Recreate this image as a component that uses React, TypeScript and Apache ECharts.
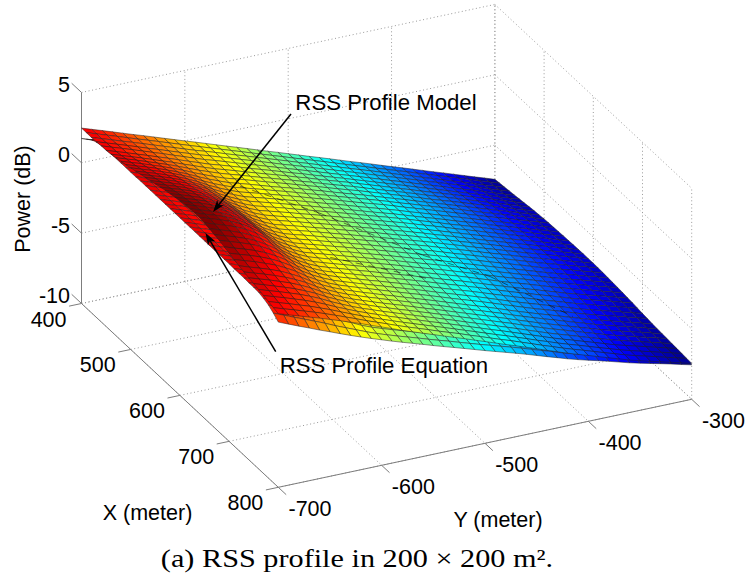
import React, { useEffect, useRef } from "react";
import * as echarts from "echarts";

const xTicks = [400, 500, 600, 700, 800];
const yTicks = [-700, -600, -500, -400, -300];
const zTicks = [-10, -5, 0, 5];
const STEP = 10; // metres between mesh nodes

// Power (dB) of the model surface: rows X = 400..800, columns Y = -700..-300
const modelPower: number[][] = [
[2.47,2.22,1.98,1.73,1.48,1.23,.99,.74,.49,.24,-.01,-.25,-.5,-.75,-1,-1.24,-1.49,-1.74,-1.99,-2.23,-2.48,-2.73,-2.98,-3.22,-3.47,-3.72,-3.97,-4.21,-4.46,-4.71,-4.96,-5.2,-5.45,-5.7,-5.95,-6.19,-6.44,-6.69,-6.94,-7.18,-7.43],
[2.47,2.22,1.98,1.73,1.48,1.23,.99,.74,.49,.24,-.01,-.25,-.5,-.74,-.99,-1.23,-1.48,-1.72,-1.97,-2.21,-2.46,-2.7,-2.95,-3.19,-3.44,-3.69,-3.94,-4.18,-4.43,-4.67,-4.92,-5.16,-5.41,-5.66,-5.91,-6.15,-6.4,-6.64,-6.89,-7.13,-7.38],
[2.46,2.21,1.97,1.72,1.48,1.23,.98,.73,.48,.23,-.02,-.25,-.49,-.74,-.98,-1.22,-1.46,-1.71,-1.95,-2.19,-2.44,-2.68,-2.93,-3.17,-3.41,-3.66,-3.9,-4.14,-4.39,-4.64,-4.89,-5.13,-5.38,-5.63,-5.88,-6.12,-6.36,-6.61,-6.86,-7.1,-7.34],
[2.48,2.23,1.99,1.74,1.49,1.23,.99,.73,.48,.23,-.02,-.25,-.49,-.73,-.97,-1.21,-1.45,-1.69,-1.94,-2.17,-2.41,-2.65,-2.9,-3.13,-3.38,-3.62,-3.87,-4.11,-4.36,-4.6,-4.85,-5.09,-5.34,-5.58,-5.83,-6.07,-6.32,-6.56,-6.81,-7.05,-7.29],
[2.51,2.26,2.02,1.77,1.52,1.26,1.01,.75,.49,.23,-.03,-.25,-.49,-.73,-.97,-1.2,-1.44,-1.68,-1.92,-2.15,-2.39,-2.63,-2.87,-3.11,-3.35,-3.59,-3.84,-4.08,-4.33,-4.57,-4.82,-5.06,-5.31,-5.55,-5.8,-6.04,-6.28,-6.52,-6.77,-7.01,-7.25],
[2.52,2.27,2.03,1.78,1.53,1.27,1.02,.75,.49,.23,-.03,-.25,-.48,-.72,-.96,-1.19,-1.42,-1.66,-1.9,-2.12,-2.37,-2.6,-2.84,-3.07,-3.32,-3.56,-3.8,-4.04,-4.29,-4.53,-4.78,-5.02,-5.27,-5.51,-5.76,-5.99,-6.24,-6.48,-6.73,-6.96,-7.2],
[2.57,2.32,2.08,1.83,1.57,1.31,1.05,.77,.5,.23,-.03,-.25,-.48,-.72,-.95,-1.18,-1.4,-1.63,-1.87,-2.09,-2.34,-2.57,-2.8,-3.03,-3.28,-3.52,-3.76,-4,-4.25,-4.49,-4.74,-4.98,-5.22,-5.46,-5.71,-5.94,-6.19,-6.43,-6.67,-6.9,-7.15],
[2.65,2.4,2.16,1.9,1.64,1.38,1.1,.8,.51,.24,-.02,-.25,-.47,-.71,-.94,-1.16,-1.39,-1.61,-1.85,-2.07,-2.32,-2.55,-2.78,-3,-3.25,-3.49,-3.73,-3.96,-4.21,-4.45,-4.7,-4.94,-5.18,-5.42,-5.67,-5.9,-6.15,-6.39,-6.63,-6.86,-7.1],
[2.72,2.48,2.24,1.98,1.72,1.44,1.15,.82,.52,.23,-.04,-.25,-.47,-.7,-.93,-1.15,-1.37,-1.6,-1.83,-2.05,-2.29,-2.52,-2.75,-2.97,-3.21,-3.45,-3.69,-3.93,-4.18,-4.42,-4.67,-4.9,-5.14,-5.38,-5.63,-5.86,-6.11,-6.35,-6.59,-6.82,-7.05],
[2.81,2.56,2.33,2.07,1.8,1.51,1.2,.85,.53,.24,-.04,-.25,-.47,-.7,-.93,-1.15,-1.36,-1.58,-1.81,-2.03,-2.27,-2.5,-2.73,-2.95,-3.19,-3.43,-3.67,-3.9,-4.15,-4.39,-4.63,-4.87,-5.11,-5.35,-5.59,-5.83,-6.07,-6.31,-6.55,-6.78,-7.02],
[2.91,2.66,2.42,2.17,1.89,1.59,1.26,.88,.54,.24,-.04,-.25,-.46,-.68,-.91,-1.12,-1.35,-1.58,-1.8,-2.02,-2.25,-2.48,-2.71,-2.93,-3.16,-3.4,-3.65,-3.88,-4.12,-4.36,-4.6,-4.84,-5.08,-5.32,-5.57,-5.8,-6.04,-6.27,-6.51,-6.74,-6.98],
[3,2.76,2.52,2.26,1.98,1.66,1.32,.91,.56,.24,-.04,-.25,-.46,-.68,-.9,-1.12,-1.34,-1.57,-1.79,-2.01,-2.24,-2.47,-2.7,-2.92,-3.14,-3.38,-3.63,-3.86,-4.1,-4.34,-4.58,-4.82,-5.06,-5.3,-5.55,-5.78,-6.01,-6.25,-6.48,-6.71,-6.95],
[3.1,2.85,2.62,2.36,2.07,1.74,1.38,.95,.57,.25,-.05,-.26,-.47,-.68,-.91,-1.12,-1.34,-1.57,-1.79,-2.01,-2.24,-2.47,-2.7,-2.92,-3.15,-3.38,-3.63,-3.86,-4.1,-4.34,-4.58,-4.82,-5.06,-5.3,-5.55,-5.77,-6.01,-6.24,-6.48,-6.7,-6.94],
[3.21,2.96,2.72,2.46,2.17,1.83,1.45,.98,.59,.25,-.05,-.26,-.47,-.68,-.91,-1.12,-1.34,-1.57,-1.79,-2.01,-2.24,-2.47,-2.7,-2.92,-3.14,-3.38,-3.62,-3.86,-4.09,-4.33,-4.58,-4.81,-5.04,-5.29,-5.54,-5.76,-6,-6.23,-6.46,-6.69,-6.92],
[3.3,3.06,2.82,2.56,2.26,1.91,1.5,1.01,.6,.25,-.05,-.26,-.47,-.68,-.91,-1.12,-1.34,-1.56,-1.78,-2,-2.23,-2.46,-2.68,-2.9,-3.13,-3.36,-3.61,-3.84,-4.08,-4.33,-4.56,-4.8,-5.03,-5.28,-5.52,-5.75,-5.98,-6.21,-6.44,-6.67,-6.9],
[3.4,3.16,2.92,2.65,2.35,1.98,1.56,1.05,.62,.26,-.05,-.26,-.47,-.68,-.91,-1.12,-1.34,-1.56,-1.78,-2,-2.23,-2.46,-2.68,-2.9,-3.12,-3.36,-3.6,-3.83,-4.07,-4.32,-4.55,-4.79,-5.03,-5.27,-5.51,-5.74,-5.97,-6.2,-6.43,-6.66,-6.89],
[3.5,3.25,3.02,2.75,2.44,2.06,1.62,1.08,.63,.26,-.05,-.27,-.48,-.69,-.91,-1.12,-1.34,-1.56,-1.79,-2.01,-2.23,-2.46,-2.68,-2.9,-3.13,-3.36,-3.61,-3.84,-4.08,-4.32,-4.56,-4.8,-5.03,-5.27,-5.52,-5.74,-5.97,-6.2,-6.43,-6.65,-6.88],
[3.6,3.35,3.12,2.84,2.53,2.14,1.68,1.11,.64,.26,-.05,-.27,-.48,-.69,-.91,-1.12,-1.34,-1.56,-1.79,-2.01,-2.23,-2.46,-2.68,-2.9,-3.13,-3.36,-3.61,-3.84,-4.08,-4.33,-4.56,-4.8,-5.03,-5.27,-5.52,-5.74,-5.97,-6.19,-6.42,-6.64,-6.87],
[3.68,3.44,3.2,2.93,2.61,2.21,1.74,1.14,.66,.27,-.06,-.28,-.48,-.7,-.92,-1.13,-1.35,-1.57,-1.79,-2.01,-2.23,-2.46,-2.69,-2.9,-3.13,-3.36,-3.61,-3.84,-4.09,-4.32,-4.56,-4.79,-5.03,-5.27,-5.51,-5.74,-5.96,-6.19,-6.41,-6.63,-6.86],
[3.76,3.51,3.27,3.01,2.68,2.27,1.78,1.17,.67,.27,-.06,-.28,-.49,-.7,-.92,-1.14,-1.36,-1.58,-1.8,-2.02,-2.24,-2.47,-2.69,-2.91,-3.14,-3.37,-3.62,-3.85,-4.09,-4.33,-4.57,-4.8,-5.04,-5.28,-5.52,-5.74,-5.97,-6.19,-6.41,-6.63,-6.86],
[3.83,3.58,3.35,3.07,2.75,2.33,1.83,1.19,.68,.27,-.06,-.29,-.49,-.71,-.93,-1.15,-1.36,-1.58,-1.8,-2.02,-2.25,-2.47,-2.7,-2.92,-3.14,-3.38,-3.63,-3.86,-4.1,-4.34,-4.58,-4.81,-5.05,-5.29,-5.53,-5.75,-5.98,-6.2,-6.42,-6.64,-6.86],
[3.88,3.64,3.4,3.13,2.8,2.37,1.86,1.21,.68,.27,-.06,-.29,-.5,-.72,-.94,-1.15,-1.37,-1.59,-1.81,-2.04,-2.26,-2.49,-2.72,-2.93,-3.16,-3.4,-3.65,-3.88,-4.12,-4.36,-4.6,-4.83,-5.06,-5.3,-5.55,-5.77,-5.99,-6.21,-6.43,-6.65,-6.87],
[3.92,3.67,3.44,3.16,2.83,2.4,1.88,1.22,.69,.27,-.07,-.3,-.51,-.73,-.95,-1.16,-1.39,-1.61,-1.83,-2.05,-2.28,-2.51,-2.74,-2.96,-3.18,-3.42,-3.67,-3.91,-4.15,-4.39,-4.62,-4.86,-5.09,-5.33,-5.58,-5.79,-6.02,-6.23,-6.46,-6.67,-6.89],
[3.95,3.7,3.47,3.19,2.86,2.42,1.9,1.23,.69,.27,-.07,-.31,-.52,-.74,-.97,-1.18,-1.41,-1.63,-1.85,-2.08,-2.31,-2.54,-2.77,-2.99,-3.22,-3.46,-3.71,-3.95,-4.19,-4.43,-4.66,-4.9,-5.13,-5.37,-5.61,-5.83,-6.05,-6.27,-6.49,-6.7,-6.92],
[3.95,3.71,3.47,3.2,2.87,2.43,1.9,1.23,.69,.27,-.08,-.31,-.53,-.75,-.98,-1.2,-1.42,-1.65,-1.87,-2.1,-2.33,-2.56,-2.79,-3.01,-3.24,-3.48,-3.74,-3.97,-4.22,-4.46,-4.69,-4.93,-5.16,-5.4,-5.64,-5.86,-6.08,-6.29,-6.51,-6.72,-6.94],
[3.89,3.65,3.41,3.14,2.81,2.38,1.86,1.2,.68,.26,-.08,-.32,-.54,-.77,-1,-1.21,-1.44,-1.67,-1.89,-2.12,-2.36,-2.59,-2.82,-3.04,-3.28,-3.52,-3.77,-4.01,-4.26,-4.5,-4.73,-4.96,-5.2,-5.44,-5.68,-5.9,-6.11,-6.33,-6.55,-6.75,-6.97],
[3.81,3.56,3.33,3.06,2.73,2.31,1.81,1.17,.66,.25,-.09,-.33,-.56,-.78,-1.01,-1.23,-1.46,-1.69,-1.92,-2.15,-2.38,-2.62,-2.85,-3.08,-3.31,-3.55,-3.81,-4.05,-4.3,-4.54,-4.77,-5,-5.24,-5.48,-5.72,-5.93,-6.15,-6.36,-6.58,-6.79,-7],
[3.71,3.47,3.24,2.97,2.65,2.24,1.75,1.14,.64,.24,-.09,-.34,-.57,-.8,-1.03,-1.25,-1.49,-1.72,-1.95,-2.18,-2.42,-2.65,-2.89,-3.12,-3.35,-3.6,-3.85,-4.1,-4.34,-4.58,-4.82,-5.05,-5.29,-5.52,-5.77,-5.98,-6.2,-6.41,-6.62,-6.83,-7.04],
[3.63,3.39,3.15,2.89,2.57,2.17,1.7,1.11,.63,.23,-.1,-.35,-.58,-.81,-1.05,-1.27,-1.5,-1.74,-1.97,-2.2,-2.44,-2.68,-2.92,-3.15,-3.39,-3.63,-3.89,-4.13,-4.38,-4.62,-4.85,-5.09,-5.32,-5.56,-5.8,-6.02,-6.23,-6.44,-6.65,-6.86,-7.07],
[3.5,3.25,3.02,2.76,2.45,2.07,1.62,1.06,.6,.22,-.1,-.36,-.59,-.83,-1.07,-1.29,-1.53,-1.76,-2,-2.24,-2.48,-2.72,-2.96,-3.19,-3.43,-3.68,-3.93,-4.18,-4.43,-4.67,-4.9,-5.14,-5.37,-5.61,-5.85,-6.06,-6.28,-6.48,-6.7,-6.9,-7.12],
[3.37,3.13,2.9,2.64,2.34,1.97,1.54,1.02,.58,.21,-.11,-.37,-.61,-.85,-1.09,-1.32,-1.56,-1.8,-2.03,-2.27,-2.52,-2.76,-3,-3.24,-3.48,-3.73,-3.99,-4.24,-4.49,-4.73,-4.96,-5.2,-5.43,-5.67,-5.91,-6.12,-6.33,-6.54,-6.75,-6.95,-7.17],
[3.25,3.01,2.78,2.51,2.23,1.87,1.47,.97,.56,.19,-.12,-.37,-.62,-.86,-1.1,-1.34,-1.58,-1.82,-2.05,-2.3,-2.54,-2.79,-3.03,-3.27,-3.51,-3.76,-4.02,-4.27,-4.52,-4.77,-5,-5.23,-5.47,-5.71,-5.95,-6.16,-6.37,-6.57,-6.78,-6.98,-7.2],
[3.13,2.88,2.65,2.4,2.12,1.77,1.39,.93,.53,.18,-.12,-.38,-.64,-.88,-1.13,-1.36,-1.61,-1.85,-2.09,-2.33,-2.58,-2.83,-3.08,-3.32,-3.56,-3.82,-4.08,-4.33,-4.58,-4.82,-5.05,-5.29,-5.53,-5.76,-6.01,-6.21,-6.42,-6.63,-6.84,-7.04,-7.25],
[3.02,2.78,2.55,2.29,2.02,1.69,1.33,.89,.51,.17,-.13,-.39,-.65,-.89,-1.14,-1.38,-1.62,-1.87,-2.11,-2.35,-2.6,-2.85,-3.1,-3.34,-3.59,-3.84,-4.11,-4.36,-4.61,-4.85,-5.08,-5.32,-5.56,-5.79,-6.03,-6.24,-6.45,-6.65,-6.86,-7.06,-7.27],
[2.93,2.69,2.46,2.2,1.94,1.62,1.27,.86,.49,.16,-.14,-.4,-.66,-.91,-1.15,-1.39,-1.64,-1.89,-2.13,-2.38,-2.63,-2.88,-3.13,-3.37,-3.62,-3.88,-4.14,-4.39,-4.65,-4.89,-5.12,-5.36,-5.6,-5.83,-6.07,-6.28,-6.49,-6.69,-6.89,-7.09,-7.3],
[2.84,2.6,2.36,2.11,1.85,1.54,1.21,.82,.48,.15,-.14,-.4,-.67,-.92,-1.17,-1.41,-1.66,-1.9,-2.15,-2.4,-2.65,-2.9,-3.15,-3.4,-3.65,-3.9,-4.17,-4.42,-4.68,-4.92,-5.15,-5.39,-5.63,-5.86,-6.1,-6.31,-6.51,-6.71,-6.92,-7.11,-7.32],
[2.75,2.51,2.28,2.03,1.78,1.48,1.16,.79,.46,.14,-.15,-.41,-.68,-.93,-1.18,-1.43,-1.68,-1.92,-2.17,-2.42,-2.68,-2.93,-3.18,-3.43,-3.68,-3.94,-4.2,-4.46,-4.72,-4.96,-5.19,-5.43,-5.67,-5.9,-6.14,-6.34,-6.55,-6.74,-6.95,-7.14,-7.35],
[2.65,2.41,2.18,1.93,1.68,1.4,1.09,.75,.44,.13,-.15,-.42,-.69,-.94,-1.2,-1.44,-1.7,-1.94,-2.19,-2.44,-2.7,-2.95,-3.21,-3.45,-3.71,-3.97,-4.23,-4.49,-4.75,-4.99,-5.22,-5.46,-5.69,-5.93,-6.17,-6.37,-6.57,-6.77,-6.97,-7.17,-7.37],
[2.55,2.31,2.08,1.83,1.59,1.31,1.03,.72,.42,.12,-.16,-.43,-.7,-.96,-1.21,-1.46,-1.71,-1.96,-2.21,-2.47,-2.72,-2.98,-3.24,-3.48,-3.74,-4,-4.27,-4.52,-4.78,-5.02,-5.25,-5.49,-5.73,-5.96,-6.2,-6.41,-6.61,-6.8,-7,-7.2,-7.4],
[2.44,2.2,1.97,1.73,1.49,1.23,.96,.68,.4,.11,-.16,-.43,-.71,-.97,-1.22,-1.47,-1.73,-1.98,-2.22,-2.49,-2.74,-3,-3.26,-3.5,-3.77,-4.03,-4.3,-4.55,-4.81,-5.05,-5.28,-5.52,-5.76,-5.99,-6.23,-6.44,-6.63,-6.83,-7.03,-7.22,-7.42],
[2.34,2.1,1.87,1.63,1.4,1.15,.9,.64,.38,.1,-.17,-.44,-.72,-.98,-1.24,-1.49,-1.75,-2,-2.25,-2.51,-2.77,-3.03,-3.29,-3.54,-3.8,-4.06,-4.33,-4.59,-4.85,-5.09,-5.32,-5.56,-5.8,-6.03,-6.27,-6.47,-6.67,-6.86,-7.06,-7.25,-7.45],
];

// Power (dB) of the equation surface along its Y = -700 edge: X = 400..750, first six Y nodes
const equationEdge: number[][] = [
[1.73,1.48,1.23,.98,.73,.48],[2,1.75,1.5,1.25,1,.75],[2.3,2.05,1.8,1.55,1.3,1.05],[2.45,2.2,1.95,1.7,1.45,1.2],
[2.55,2.3,2.05,1.8,1.55,1.3],[2.55,2.3,2.05,1.8,1.55,1.3],[2.58,2.33,2.08,1.83,1.58,1.33],[2.6,2.35,2.1,1.85,1.6,1.35],
[2.6,2.35,2.1,1.85,1.6,1.35],[2.6,2.35,2.1,1.85,1.6,1.35],[2.6,2.35,2.1,1.85,1.6,1.35],[2.6,2.35,2.1,1.85,1.6,1.35],
[2.62,2.37,2.12,1.87,1.62,1.37],[2.62,2.37,2.12,1.87,1.62,1.37],[2.62,2.37,2.12,1.87,1.62,1.37],[2.62,2.37,2.12,1.87,1.62,1.37],
[2.62,2.37,2.12,1.87,1.62,1.37],[2.62,2.37,2.12,1.87,1.62,1.37],[2.62,2.37,2.12,1.87,1.62,1.37],[2.62,2.37,2.12,1.87,1.62,1.37],
[2.62,2.37,2.12,1.87,1.62,1.37],[2.62,2.37,2.12,1.87,1.62,1.37],[2.62,2.37,2.12,1.87,1.62,1.37],[2.62,2.37,2.12,1.87,1.62,1.37],
[2.62,2.37,2.12,1.87,1.62,1.37],[2.62,2.37,2.12,1.87,1.62,1.37],[2.62,2.37,2.12,1.87,1.62,1.37],[2.62,2.37,2.12,1.87,1.62,1.37],
[2.62,2.37,2.12,1.87,1.62,1.37],[2.62,2.37,2.12,1.87,1.62,1.37],[2.62,2.37,2.12,1.87,1.62,1.37],[2.6,2.35,2.1,1.85,1.6,1.35],
[2.6,2.35,2.1,1.85,1.6,1.35],[2.6,2.35,2.1,1.85,1.6,1.35],[2.58,2.33,2.08,1.83,1.58,1.33],[2.58,2.33,2.08,1.83,1.58,1.3],
];

// Power (dB) of the equation surface along X = 760..800, all Y nodes
const equationFront: number[][] = [
[2.55,2.3,2.05,1.8,1.5,1.2,.85,.5,.1,-.3,-.64,-.89,-1.13,-1.36,-1.59,-1.83,-2.06,-2.28,-2.52,-2.75,-2.98,-3.2,-3.43,-3.66,-3.9,-4.14,-4.38,-4.62,-4.86,-5.08,-5.3,-5.52,-5.74,-5.97,-6.2,-6.4,-6.6,-6.79,-6.98,-7.18,-7.38],
[2.45,2.18,1.9,1.62,1.32,1,.65,.3,-.05,-.45,-.74,-.99,-1.23,-1.46,-1.69,-1.93,-2.16,-2.38,-2.62,-2.85,-3.08,-3.3,-3.53,-3.76,-3.99,-4.23,-4.47,-4.71,-4.95,-5.17,-5.39,-5.6,-5.81,-6.04,-6.26,-6.46,-6.65,-6.84,-7.03,-7.23,-7.42],
[2.3,2,1.7,1.42,1.1,.8,.45,.12,-.2,-.55,-.84,-1.09,-1.33,-1.56,-1.79,-2.03,-2.26,-2.48,-2.72,-2.95,-3.18,-3.4,-3.63,-3.85,-4.08,-4.32,-4.56,-4.8,-5.05,-5.26,-5.48,-5.68,-5.89,-6.11,-6.33,-6.52,-6.71,-6.9,-7.08,-7.28,-7.47],
[2.05,1.75,1.45,1.15,.85,.55,.22,-.08,-.38,-.68,-.96,-1.21,-1.45,-1.68,-1.91,-2.15,-2.38,-2.6,-2.84,-3.07,-3.3,-3.52,-3.74,-3.96,-4.19,-4.43,-4.67,-4.9,-5.15,-5.36,-5.57,-5.77,-5.97,-6.19,-6.4,-6.59,-6.77,-6.95,-7.13,-7.33,-7.51],
[1.74,1.44,1.14,.85,.55,.27,-.02,-.3,-.57,-.83,-1.08,-1.33,-1.57,-1.8,-2.03,-2.27,-2.5,-2.72,-2.95,-3.18,-3.41,-3.63,-3.85,-4.07,-4.3,-4.54,-4.78,-5.01,-5.25,-5.46,-5.66,-5.85,-6.05,-6.26,-6.47,-6.65,-6.83,-7,-7.18,-7.37,-7.55],
];

const crossingAX = [495, 546, 619, 655, 720];
const crossingAY = [-592, -539, -474, -426, -377];
const crossingBX = [643, 672];
const crossingBY = [-575, -492];

const FRONT_START_ROW = equationEdge.length;
const colorMin = -7.6;
const colorMax = 3.7;

// Parallel projection of the MATLAB axes box on the page
const project = (x: number, y: number, z: number): [number, number] => {
  const u = (x - 400) / 400;
  const v = (y + 700) / 400;
  return [81.5 + 196.8 * u + 413.4 * v, 303.5 + 183.8 * u - 88 * v - 14.07 * (z + 10)];
};

const clamp01 = (a: number) => Math.max(0, Math.min(1, a));
const jet = (z: number) => {
  const t = clamp01((z - colorMin) / (colorMax - colorMin));
  const c = (k: number) => Math.round(255 * clamp01(1.5 - Math.abs(4 * t - k)));
  return `rgb(${c(3)},${c(2)},${c(1)})`;
};

type P3 = [number, number, number];
type Cell = { pts: P3[]; z: number };

const buildCells = (get: (i: number, j: number) => number | undefined, rows: number, cols: number) => {
  const out: Cell[] = [];
  for (let i = 0; i < rows - 1; i++) {
    for (let j = cols - 2; j >= 0; j--) {
      const nodes: [number, number][] = [[i, j], [i + 1, j], [i + 1, j + 1], [i, j + 1]];
      const zs = nodes.map(([a, b]) => get(a, b));
      if (zs.some((z) => z === undefined)) continue;
      out.push({
        pts: nodes.map(([a, b], k) => [400 + STEP * a, -700 + STEP * b, zs[k] as number]),
        z: (zs as number[]).reduce((s, z) => s + z, 0) / 4,
      });
    }
  }
  return out;
};

const equationAt = (i: number, j: number) =>
  i >= FRONT_START_ROW ? equationFront[i - FRONT_START_ROW]?.[j] : equationEdge[i]?.[j];

const equationCells = buildCells(equationAt, 41, 41);
const modelCells = buildCells((i, j) => modelPower[i]?.[j], 41, 41);

const X0 = xTicks[0], X1 = xTicks[xTicks.length - 1];
const Y0 = yTicks[0], Y1 = yTicks[yTicks.length - 1];
const Z0 = zTicks[0], Z1 = zTicks[zTicks.length - 1];

type Seg = [P3, P3];
const gridSegs: Seg[] = [
  ...xTicks.map((x): Seg => [[x, Y0, Z0], [x, Y1, Z0]]),
  ...yTicks.map((y): Seg => [[X0, y, Z0], [X1, y, Z0]]),
  ...xTicks.map((x): Seg => [[x, Y1, Z0], [x, Y1, Z1]]),
  ...yTicks.map((y): Seg => [[X0, y, Z0], [X0, y, Z1]]),
  ...zTicks.map((z): Seg => [[X0, Y0, z], [X0, Y1, z]]),
  ...zTicks.map((z): Seg => [[X0, Y1, z], [X1, Y1, z]]),
];
const axisSegs: Seg[] = [
  [[X0, Y0, Z0], [X0, Y0, Z1]],
  [[X0, Y0, Z0], [X1, Y0, Z0]],
  [[X1, Y0, Z0], [X1, Y1, Z0]],
  ...zTicks.map((z): Seg => [[X0, Y0, z], [X0 - 20, Y0, z]]),
  ...xTicks.map((x): Seg => [[x, Y0, Z0], [x, Y0 - 12, Z0]]),
  ...yTicks.map((y): Seg => [[X1, y, Z0], [X1 + 16, y, Z0]]),
];

const onModel = (x: number, y: number): P3 => {
  const i = Math.round((x - X0) / STEP);
  const j = Math.round((y - Y0) / STEP);
  return [x, y, modelPower[i][j] + 0.01];
};
const crossingSegs = (xs: number[], ys: number[]): Seg[] =>
  xs.slice(1).map((x, k): Seg => [onModel(xs[k], ys[k]), onModel(x, ys[k + 1])]);

const LABEL_FONT = '21.5px "Liberation Sans", Arial, sans-serif';
const NOTE_FONT = '22.2px "Liberation Sans", Arial, sans-serif';
type Lab = { t: string; p: P3; dx: number; dy: number; align: string };
const labels: Lab[] = [
  ...zTicks.map((z): Lab => ({ t: String(z), p: [X0, Y0, z], dx: -11.5, dy: -7.5, align: "right" })),
  ...xTicks.map((x): Lab => ({ t: String(x), p: [x, Y0, Z0], dx: -15, dy: 16, align: "right" })),
  ...yTicks.map((y): Lab => ({ t: String(y), p: [X1, y, Z0], dx: 31.7, dy: 22, align: "center" })),
];

const arrow = (from: number[], to: number[]) => {
  const a = Math.atan2(to[1] - from[1], to[0] - from[0]);
  const at = (l: number, w: number) => [
    to[0] - l * Math.cos(a) + w * Math.sin(a),
    to[1] - l * Math.sin(a) - w * Math.cos(a),
  ];
  return [
    { type: "line", z: 50, shape: { x1: from[0], y1: from[1], x2: at(8, 0)[0], y2: at(8, 0)[1] }, style: { stroke: "#000", lineWidth: 1.5 } },
    { type: "polygon", z: 50, shape: { points: [to, at(12, 4.2), at(9, 0), at(12, -4.2)] }, style: { fill: "#000" } },
  ];
};

const text = (t: string, x: number, y: number, extra: any = {}, font = LABEL_FONT) => ({
  type: "text",
  z: 60,
  x,
  y,
  ...extra.el,
  style: { text: t, font, fill: "#000", textAlign: extra.align ?? "center", textVerticalAlign: "middle" },
});

const cellSeries = (cells: Cell[]) => ({
  type: "custom",
  coordinateSystem: "cartesian2d",
  silent: true,
  clip: false,
  progressive: 0,
  data: cells.map((c) => project(c.pts[0][0], c.pts[0][1], c.pts[0][2])),
  renderItem: (params: any, api: any) => {
    const c = cells[params.dataIndex];
    return {
      type: "polygon",
      shape: { points: c.pts.map((p) => api.coord(project(p[0], p[1], p[2]))) },
      style: { fill: jet(c.z), stroke: "#202020", lineWidth: 0.5 },
    };
  },
});

const segSeries = (segs: Seg[], style: any) => ({
  type: "custom",
  coordinateSystem: "cartesian2d",
  silent: true,
  clip: false,
  progressive: 0,
  data: segs.map((s) => project(s[0][0], s[0][1], s[0][2])),
  renderItem: (params: any, api: any) => {
    const s = segs[params.dataIndex];
    const a = api.coord(project(s[0][0], s[0][1], s[0][2]));
    const b = api.coord(project(s[1][0], s[1][1], s[1][2]));
    return { type: "line", shape: { x1: a[0], y1: a[1], x2: b[0], y2: b[1] }, style };
  },
});

export default function App() {
  const ref = useRef<HTMLDivElement>(null);
  useEffect(() => {
    const chart = echarts.init(ref.current!, undefined, { renderer: "svg" });
    chart.setOption({
      animation: false,
      backgroundColor: "#fff",
      grid: { left: 0, right: 0, top: 0, bottom: 0 },
      xAxis: { type: "value", min: 0, max: 749, show: false },
      yAxis: { type: "value", min: 0, max: 580, inverse: true, show: false },
      series: [
        segSeries(gridSegs, { stroke: "#9a9a9a", lineWidth: 1, lineDash: [1, 2.6] }),
        segSeries(axisSegs, { stroke: "#7d7d7d", lineWidth: 1 }),
        cellSeries(equationCells),
        cellSeries(modelCells),
        segSeries(
          [...crossingSegs(crossingAX, crossingAY), ...crossingSegs(crossingBX, crossingBY)],
          { stroke: "#000", lineWidth: 0.8, opacity: 0.65, lineDash: [7, 6] }
        ),
        {
          type: "custom",
          coordinateSystem: "cartesian2d",
          silent: true,
          clip: false,
          data: labels.map((l) => project(l.p[0], l.p[1], l.p[2])),
          renderItem: (params: any, api: any) => {
            const l = labels[params.dataIndex];
            const c = api.coord(project(l.p[0], l.p[1], l.p[2]));
            return {
              type: "text",
              x: c[0] + l.dx,
              y: c[1] + l.dy,
              style: { text: l.t, font: LABEL_FONT, fill: "#000", textAlign: l.align, textVerticalAlign: "middle" },
            };
          },
        },
      ],
      graphic: [
        ...arrow([291, 114], [213, 212]),
        ...arrow([275.7, 351.7], [205.5, 233]),
        text("Power (dB)", 23, 199, { el: { rotation: Math.PI / 2 } }),
        text("X (meter)", 147.5, 513),
        text("Y (meter)", 498, 520),
        text("RSS Profile Model", 386, 102.5, {}, NOTE_FONT),
        text("RSS Profile Equation", 384, 365, {}, NOTE_FONT),
        text("(a) RSS profile in 200 × 200 m².", 357, 558, { el: { scaleX: 1.21 } }, '25px "Liberation Serif", "Times New Roman", serif'),
      ],
    });
    return () => chart.dispose();
  }, []);
  return <div ref={ref} style={{ position: "fixed", left: 0, top: 0, width: 749, height: 580 }} />;
}
